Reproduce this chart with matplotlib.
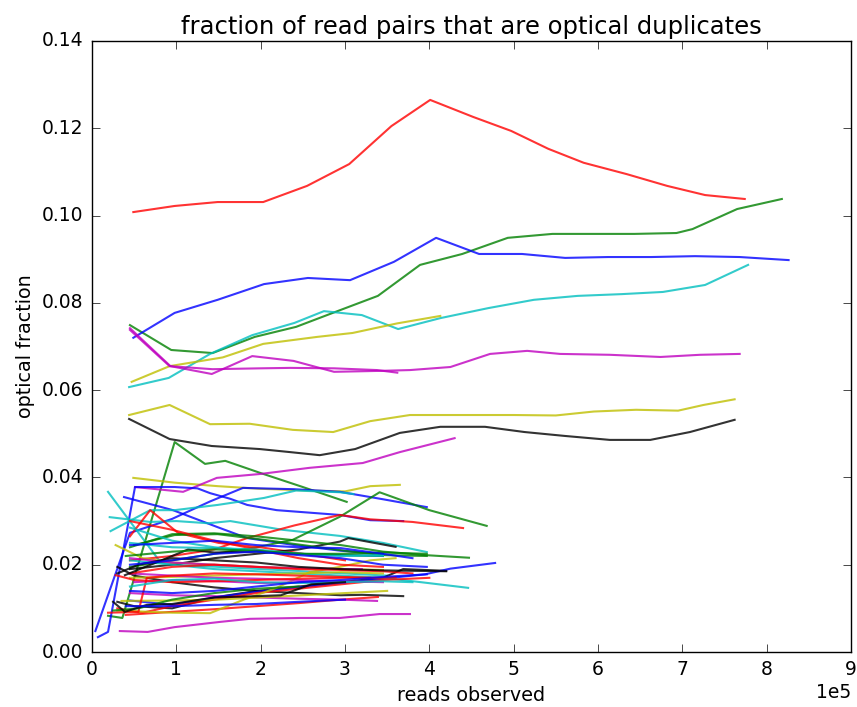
import numpy as np
import matplotlib
matplotlib.use("Agg")
import matplotlib.pyplot as plt

# x values in units of 1e5 reads observed, y = optical duplicate fraction
# ---- upper, long series ----
red_top_x = [0.49, 0.98, 1.49, 2.03, 2.55, 3.05, 3.55, 4.01, 4.52, 4.97, 5.41, 5.83, 6.34, 6.82, 7.27, 7.74]
red_top_y = [0.1008, 0.1022, 0.1031, 0.1031, 0.1068, 0.1118, 0.1205, 0.1265, 0.1226, 0.1194, 0.1153, 0.1121, 0.1095, 0.1068, 0.1047, 0.1038]
green_top_x = [0.45, 0.94, 1.43, 1.93, 2.42, 2.91, 3.39, 3.89, 4.39, 4.93, 5.46, 5.93, 6.43, 6.93, 7.12, 7.65, 8.18]
green_top_y = [0.0749, 0.0692, 0.0685, 0.0722, 0.0745, 0.0781, 0.0816, 0.0887, 0.0912, 0.0949, 0.0958, 0.0958, 0.0958, 0.0960, 0.0969, 0.1015, 0.1038]
blue_top_x = [0.49, 0.98, 1.49, 2.04, 2.56, 3.06, 3.58, 4.08, 4.59, 5.10, 5.61, 6.12, 6.63, 7.15, 7.68, 8.26]
blue_top_y = [0.0720, 0.0777, 0.0807, 0.0843, 0.0857, 0.0852, 0.0894, 0.0949, 0.0912, 0.0912, 0.0903, 0.0905, 0.0905, 0.0907, 0.0905, 0.0898]
cyan_top_x = [0.44, 0.91, 1.40, 1.90, 2.40, 2.75, 3.20, 3.63, 4.13, 4.70, 5.24, 5.76, 6.28, 6.77, 7.27, 7.78]
cyan_top_y = [0.0607, 0.0628, 0.0683, 0.0726, 0.0754, 0.0781, 0.0772, 0.0740, 0.0765, 0.0788, 0.0807, 0.0816, 0.0820, 0.0825, 0.0841, 0.0887]
yellow_top_x = [0.47, 0.92, 1.55, 2.03, 2.67, 3.09, 3.62, 4.13]
yellow_top_y = [0.0619, 0.0655, 0.0675, 0.0706, 0.0722, 0.0731, 0.0753, 0.0770]
magenta_a_x = [0.45, 0.93, 1.42, 1.90, 2.39, 2.87, 3.38, 3.77, 4.25, 4.72, 5.16, 5.55, 6.14, 6.74, 7.21, 7.68]
magenta_a_y = [0.0742, 0.0655, 0.0637, 0.0678, 0.0667, 0.0642, 0.0644, 0.0646, 0.0653, 0.0683, 0.0690, 0.0683, 0.0681, 0.0676, 0.0681, 0.0683]
magenta_b_x = [0.45, 0.92, 1.43, 2.00, 2.35, 2.87, 3.38, 3.62]
magenta_b_y = [0.0738, 0.0655, 0.0648, 0.0650, 0.0651, 0.0650, 0.0646, 0.0640]
yellow_mid_x = [0.44, 0.92, 1.40, 1.87, 2.38, 2.86, 3.30, 3.77, 4.50, 5.00, 5.50, 5.95, 6.45, 6.95, 7.25, 7.62]
yellow_mid_y = [0.0543, 0.0566, 0.0522, 0.0523, 0.0509, 0.0504, 0.0529, 0.0543, 0.0543, 0.0543, 0.0542, 0.0551, 0.0555, 0.0553, 0.0566, 0.0579]
black_mid_x = [0.44, 0.92, 1.42, 1.99, 2.35, 2.70, 3.12, 3.65, 4.13, 4.66, 5.13, 5.61, 6.14, 6.62, 7.09, 7.62]
black_mid_y = [0.0534, 0.0488, 0.0472, 0.0465, 0.0458, 0.0451, 0.0465, 0.0502, 0.0516, 0.0516, 0.0504, 0.0495, 0.0486, 0.0486, 0.0504, 0.0532]

# ---- lower cluster ----
c01_x = [0.19, 0.36, 0.98, 1.34, 1.58, 2.00, 2.50, 3.02]
c01_y = [0.0083, 0.0078, 0.0481, 0.0431, 0.0438, 0.0410, 0.0378, 0.0344]
c02_x = [0.49, 0.98, 1.49, 1.99, 2.58, 3.00, 3.30, 3.65]
c02_y = [0.0399, 0.0388, 0.0380, 0.0374, 0.0370, 0.0368, 0.0380, 0.0383]
c03_x = [0.51, 1.08, 1.48, 2.00, 2.58, 3.21, 3.65, 4.30]
c03_y = [0.0378, 0.0367, 0.0399, 0.0408, 0.0422, 0.0433, 0.0458, 0.0490]
c04_x = [0.07, 0.19, 0.51, 0.98, 1.25, 1.40, 1.64, 1.84, 2.19, 2.94, 3.30, 3.69]
c04_y = [0.0034, 0.0046, 0.0378, 0.0378, 0.0375, 0.0364, 0.0351, 0.0337, 0.0325, 0.0314, 0.0302, 0.0300]
c05_x = [0.04, 0.45, 0.95, 1.40, 1.79, 2.40, 2.94, 3.45, 3.97]
c05_y = [0.0048, 0.0273, 0.0305, 0.0345, 0.0376, 0.0373, 0.0367, 0.0350, 0.0332]
c06_x = [0.38, 0.96, 1.49, 1.84, 2.40, 2.95, 3.45]
c06_y = [0.0355, 0.0325, 0.0286, 0.0261, 0.0245, 0.0232, 0.0225]
c07_x = [0.19, 0.81, 0.98, 1.50, 2.00, 2.50, 3.00, 3.50]
c07_y = [0.0367, 0.0206, 0.0200, 0.0195, 0.0190, 0.0185, 0.0180, 0.0175]
c08_x = [0.22, 0.69, 0.98, 1.49, 2.04, 2.42, 2.94, 3.10]
c08_y = [0.0277, 0.0325, 0.0325, 0.0337, 0.0353, 0.0370, 0.0366, 0.0362]
c09_x = [0.21, 0.69, 1.00, 1.38, 1.64, 2.26, 2.94, 3.45, 3.97]
c09_y = [0.0309, 0.0298, 0.0300, 0.0295, 0.0300, 0.0280, 0.0266, 0.0250, 0.0229]
c10_x = [0.45, 0.95, 1.45, 1.95, 2.38, 2.94, 3.41, 4.00, 4.68]
c10_y = [0.0195, 0.0210, 0.0225, 0.0240, 0.0257, 0.0310, 0.0366, 0.0325, 0.0289]
c11_x = [0.45, 0.95, 1.45, 1.84, 2.40, 2.94, 3.30, 3.80, 4.40]
c11_y = [0.0210, 0.0220, 0.0235, 0.0261, 0.0290, 0.0314, 0.0304, 0.0298, 0.0284]
c12_x = [0.45, 0.69, 1.02, 1.50, 2.00, 2.50, 3.00]
c12_y = [0.0265, 0.0325, 0.0273, 0.0250, 0.0240, 0.0225, 0.0210]
c13_x = [0.45, 0.95, 1.45, 1.95, 2.45, 2.94, 3.04, 3.60]
c13_y = [0.0190, 0.0200, 0.0215, 0.0225, 0.0235, 0.0253, 0.0261, 0.0241]
c14_x = [0.45, 0.95, 1.45, 1.95, 2.45, 2.95, 3.45, 3.95, 4.47]
c14_y = [0.0240, 0.0270, 0.0272, 0.0265, 0.0255, 0.0245, 0.0230, 0.0222, 0.0216]
c15_x = [0.50, 0.98, 1.49, 2.00, 2.50, 3.00, 3.45, 3.97]
c15_y = [0.0245, 0.0268, 0.0270, 0.0258, 0.0245, 0.0232, 0.0222, 0.0220]
c16_x = [0.30, 0.50, 0.95, 1.45, 1.95, 2.45, 2.95, 3.45, 3.69, 4.20]
c16_y = [0.0115, 0.0105, 0.0100, 0.0125, 0.0140, 0.0150, 0.0160, 0.0170, 0.0190, 0.0186]
c17_x = [0.30, 0.50, 0.95, 1.45, 1.95, 2.45, 2.95, 3.20, 3.69]
c17_y = [0.0195, 0.0175, 0.0160, 0.0148, 0.0140, 0.0135, 0.0130, 0.0131, 0.0128]
c18_x = [0.40, 0.95, 1.45, 1.95, 2.45, 2.95, 3.39]
c18_y = [0.0085, 0.0092, 0.0098, 0.0105, 0.0112, 0.0120, 0.0126]
c19_x = [0.45, 0.95, 1.45, 1.95, 2.45, 2.95, 3.38]
c19_y = [0.0135, 0.0130, 0.0128, 0.0125, 0.0122, 0.0120, 0.0117]
c20_x = [0.33, 0.66, 0.98, 1.52, 1.87, 2.47, 2.94, 3.41, 3.77]
c20_y = [0.0048, 0.0046, 0.0057, 0.0069, 0.0076, 0.0078, 0.0078, 0.0087, 0.0087]
c21_x = [0.45, 0.95, 1.45, 1.95, 2.45, 2.95, 3.45, 3.95, 4.25, 4.78]
c21_y = [0.0118, 0.0108, 0.0125, 0.0138, 0.0148, 0.0158, 0.0168, 0.0178, 0.0191, 0.0204]
c22_x = [0.45, 0.95, 1.45, 1.95, 2.45, 2.95, 3.45, 3.90, 4.46]
c22_y = [0.0210, 0.0200, 0.0190, 0.0185, 0.0180, 0.0175, 0.0170, 0.0160, 0.0147]
c23_x = [0.30, 0.60, 0.95, 1.45, 1.95, 2.45, 2.95, 3.45, 4.00]
c23_y = [0.0100, 0.0090, 0.0105, 0.0120, 0.0135, 0.0145, 0.0155, 0.0165, 0.0170]
c24_x = [0.30, 0.95, 1.40, 1.80, 2.19, 2.58, 2.94, 3.30, 3.60]
c24_y = [0.0095, 0.0090, 0.0089, 0.0120, 0.0147, 0.0183, 0.0195, 0.0210, 0.0215]
c25_x = [0.35, 0.95, 1.49, 1.99, 2.50, 3.00, 3.50]
c25_y = [0.0117, 0.0118, 0.0120, 0.0125, 0.0130, 0.0135, 0.0140]
c26_x = [0.28, 0.60, 0.95, 1.45, 1.95, 2.45, 2.95, 3.45]
c26_y = [0.0245, 0.0215, 0.0205, 0.0200, 0.0195, 0.0192, 0.0190, 0.0188]
c27_x = [0.45, 0.95, 1.45, 1.95, 2.45, 2.95, 3.45]
c27_y = [0.0170, 0.0172, 0.0175, 0.0178, 0.0180, 0.0183, 0.0180]
c28_x = [0.45, 0.95, 1.45, 1.95, 2.45, 2.95, 3.20]
c28_y = [0.0215, 0.0205, 0.0200, 0.0195, 0.0192, 0.0190, 0.0190]
c29_x = [0.45, 0.95, 1.45, 1.95, 2.45, 2.95, 3.45]
c29_y = [0.0180, 0.0175, 0.0170, 0.0168, 0.0165, 0.0162, 0.0160]
c30_x = [0.50, 1.00, 1.50, 2.00, 2.50, 3.00]
c30_y = [0.0160, 0.0165, 0.0162, 0.0158, 0.0160, 0.0158]
c31_x = [0.45, 0.95, 1.45, 1.95, 2.45, 2.95, 3.45, 3.80]
c31_y = [0.0180, 0.0195, 0.0200, 0.0195, 0.0190, 0.0188, 0.0185, 0.0180]
c32_x = [0.45, 0.95, 1.45, 1.95, 2.45, 2.95, 3.45]
c32_y = [0.0300, 0.0280, 0.0255, 0.0235, 0.0215, 0.0200, 0.0195]
c33_x = [0.28, 0.50, 0.95, 1.45, 1.95, 2.45, 2.95, 3.45, 3.60]
c33_y = [0.0176, 0.0165, 0.0160, 0.0162, 0.0165, 0.0168, 0.0170, 0.0170, 0.0171]
c34_x = [0.19, 0.55, 0.65, 0.95, 1.45, 1.95, 2.45, 2.95, 3.30]
c34_y = [0.0090, 0.0092, 0.0170, 0.0175, 0.0180, 0.0178, 0.0175, 0.0172, 0.0170]
c35_x = [0.30, 0.55, 0.95, 1.45, 1.95, 2.45, 2.95, 3.45, 4.20]
c35_y = [0.0180, 0.0200, 0.0215, 0.0210, 0.0205, 0.0195, 0.0190, 0.0187, 0.0185]
c36_x = [0.39, 0.95, 1.14, 1.45, 1.95, 2.45, 2.95, 3.45]
c36_y = [0.0176, 0.0220, 0.0235, 0.0228, 0.0230, 0.0225, 0.0222, 0.0220]
c37_x = [0.45, 0.95, 1.45, 1.95, 2.45, 2.95, 3.45]
c37_y = [0.0250, 0.0240, 0.0238, 0.0235, 0.0225, 0.0220, 0.0222]
c38_x = [0.45, 0.95, 1.45, 1.95, 2.45, 2.95, 3.45, 3.80]
c38_y = [0.0150, 0.0165, 0.0168, 0.0160, 0.0158, 0.0160, 0.0162, 0.0160]
c39_x = [0.45, 0.95, 1.45, 2.00, 2.50, 3.00, 3.45]
c39_y = [0.0285, 0.0255, 0.0240, 0.0230, 0.0225, 0.0222, 0.0220]
c40_x = [0.40, 0.95, 1.45, 1.95, 2.45, 2.95, 3.45, 3.97]
c40_y = [0.0220, 0.0230, 0.0235, 0.0232, 0.0225, 0.0225, 0.0228, 0.0225]
c41_x = [0.25, 0.55, 0.95, 1.45, 1.95, 2.45]
c41_y = [0.0095, 0.0100, 0.0120, 0.0135, 0.0145, 0.0150]
c42_x = [0.45, 0.95, 1.45, 1.95, 2.45, 2.95, 3.45, 3.97]
c42_y = [0.0200, 0.0210, 0.0225, 0.0230, 0.0222, 0.0215, 0.0200, 0.0195]
c43_x = [0.45, 0.95, 1.45, 1.95, 2.45, 2.95, 3.45, 3.80]
c43_y = [0.0245, 0.0250, 0.0255, 0.0245, 0.0240, 0.0238, 0.0225, 0.0215]
c44_x = [0.45, 0.95, 1.45, 1.95, 2.45, 2.95, 3.45, 3.97]
c44_y = [0.0140, 0.0135, 0.0140, 0.0150, 0.0160, 0.0165, 0.0172, 0.0178]
c45_x = [0.25, 0.39, 0.65, 0.95, 1.45, 1.95, 2.24, 2.60, 3.00]
c45_y = [0.0115, 0.0092, 0.0108, 0.0110, 0.0125, 0.0128, 0.0130, 0.0155, 0.0160]
c46_x = [0.40, 0.95, 1.45, 1.95, 2.45, 3.00]
c46_y = [0.0105, 0.0105, 0.0108, 0.0110, 0.0115, 0.0120]

series = [
    (red_top_x, red_top_y, 'r'), (green_top_x, green_top_y, 'g'), (blue_top_x, blue_top_y, 'b'),
    (cyan_top_x, cyan_top_y, 'c'), (yellow_top_x, yellow_top_y, 'y'), (magenta_a_x, magenta_a_y, 'm'),
    (magenta_b_x, magenta_b_y, 'm'), (yellow_mid_x, yellow_mid_y, 'y'), (black_mid_x, black_mid_y, 'k'),
    (c01_x, c01_y, 'g'), (c02_x, c02_y, 'y'), (c03_x, c03_y, 'm'), (c04_x, c04_y, 'b'),
    (c05_x, c05_y, 'b'), (c06_x, c06_y, 'b'), (c07_x, c07_y, 'c'), (c08_x, c08_y, 'c'),
    (c09_x, c09_y, 'c'), (c10_x, c10_y, 'g'), (c11_x, c11_y, 'r'), (c12_x, c12_y, 'r'),
    (c13_x, c13_y, 'k'), (c14_x, c14_y, 'g'), (c15_x, c15_y, 'g'), (c16_x, c16_y, 'k'),
    (c17_x, c17_y, 'k'), (c18_x, c18_y, 'r'), (c19_x, c19_y, 'm'), (c20_x, c20_y, 'm'),
    (c21_x, c21_y, 'b'), (c22_x, c22_y, 'c'), (c23_x, c23_y, 'r'), (c24_x, c24_y, 'y'),
    (c25_x, c25_y, 'y'), (c26_x, c26_y, 'y'), (c27_x, c27_y, 'y'), (c28_x, c28_y, 'm'),
    (c29_x, c29_y, 'm'), (c30_x, c30_y, 'm'), (c31_x, c31_y, 'r'), (c32_x, c32_y, 'r'),
    (c33_x, c33_y, 'r'), (c34_x, c34_y, 'r'), (c35_x, c35_y, 'k'), (c36_x, c36_y, 'k'),
    (c37_x, c37_y, 'c'), (c38_x, c38_y, 'c'), (c39_x, c39_y, 'c'), (c40_x, c40_y, 'g'),
    (c41_x, c41_y, 'g'), (c42_x, c42_y, 'b'), (c43_x, c43_y, 'b'), (c44_x, c44_y, 'b'),
    (c45_x, c45_y, 'k'), (c46_x, c46_y, 'b'),
]

plt.style.use('classic')
plt.rcParams['font.family'] = ['DejaVu Sans']

fig = plt.figure(figsize=(8.57, 7.07), dpi=100, facecolor='white')
ax = fig.add_axes([92 / 857, 55 / 707, 759 / 857, 611 / 707])

for xs, ys, col in series:
    ax.plot(np.array(xs) * 1e5, ys, color=col, lw=1.5, alpha=0.8)

ax.set_xlim(0, 9e5)
ax.set_ylim(0, 0.14)
ax.set_xticks(np.arange(0, 10) * 1e5)
ax.set_yticks(np.arange(0, 0.141, 0.02))
ax.ticklabel_format(style='sci', axis='x', scilimits=(0, 0))
ax.tick_params(labelsize=13.5, length=6, direction='in', top=True, right=True, pad=6)
ax.xaxis.get_offset_text().set_fontsize(13.5)
ax.set_title('fraction of read pairs that are optical duplicates', fontsize=17.5)
ax.set_xlabel('reads observed', fontsize=13.8)
ax.set_ylabel('optical fraction', fontsize=13.8)

fig.savefig('out.png', dpi=100, facecolor='white')
